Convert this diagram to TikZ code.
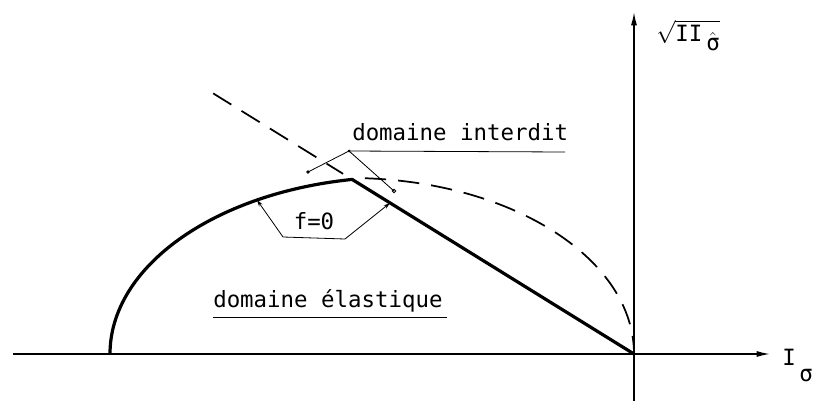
\documentclass[tikz,border=0pt]{standalone}
\usepackage{fontspec}
\setmonofont{DejaVu Sans Mono}
\usetikzlibrary{arrows.meta,calc}
\begin{document}
\begin{tikzpicture}[x=0.75pt,y=0.75pt,
  axis/.style={line width=1.1pt,-{Latex[length=10pt,width=4.5pt]}},
  thickc/.style={line width=2.4pt,line join=miter},
  dashline/.style={line width=1.3pt,dash pattern=on 16pt off 9pt},
  leader/.style={line width=0.6pt},
  tip/.style={{Stealth[length=5pt,width=3pt]}-{Stealth[length=5pt,width=3pt]}},
  lab/.style={font=\ttfamily\fontsize{16.8}{19}\selectfont,inner sep=0pt}]
\useasboundingbox (0,0) rectangle (820,405);
% axes
\coordinate (O) at (634,51);
\coordinate (XL) at (13,51);
\coordinate (XR) at (770,51);
\coordinate (YB) at (634,4);
\coordinate (YT) at (634,393);
\draw[axis] (XL) -- (XR);
\draw[axis] (YB) -- (YT);
% yield curve
\coordinate (S) at (110,51);
\draw[thickc] (S) arc[start angle=180,end angle=99.5,x radius=290,y radius=177] coordinate (P) -- (O);
% dashed continuation of the straight line
\coordinate (D1) at ($(O)!1.493!(P)$);
\coordinate (D2) at ($(O)!1.032!(P)$);
\draw[dashline] (D1) -- (D2);
% dashed elliptic curve
\coordinate (E1) at (364.86,226.76);
\draw[dashline] (E1) arc[start angle=87,end angle=0,x radius=284,y radius=176];
% domaine interdit
\node[lab,anchor=base west] (tint) at (352,265) {domaine interdit};
\coordinate (ua) at (349,254);
\coordinate (ub) at (565,253);
\coordinate (la) at (308,233);
\coordinate (lb) at (394,214);
\draw[leader] (ua) -- (ub);
\draw[leader] (la) -- (ua) -- (lb);
\fill (ua) circle (1.5);
\fill (la) circle (1.8);
\draw[leader] (lb) circle (1.8);
% f = 0
\node[lab] (f0) at (314,184) {f=0};
\coordinate (fa) at (257,205);
\coordinate (fb) at (283,168);
\coordinate (fc) at (345,166);
\coordinate (fd) at (390,202);
\draw[leader,tip] (fa) -- (fb) -- (fc) -- (fd);
% domaine elastique
\node[lab,anchor=base west] (tel) at (213,98) {domaine élastique};
\coordinate (ea) at (213,88);
\coordinate (eb) at (447,88);
\draw[leader] (ea) -- (eb);
% axis labels
\node[lab,anchor=base west] (xlab) at (782,40) {I\,\raisebox{-12pt}{σ}};
\node[lab,anchor=base west] (ylab) at (656,364) {$\sqrt{\hbox{II}\,\smash{\raisebox{-7pt}{$\hat{\hbox{σ}}$}}}$};
\end{tikzpicture}
\end{document}
